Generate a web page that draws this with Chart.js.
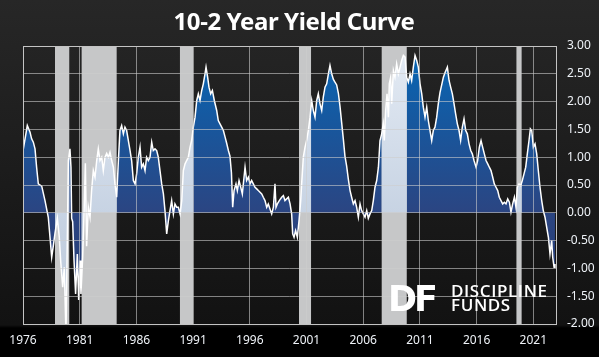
<!DOCTYPE html>
<html><head><meta charset="utf-8">
<script src="https://cdn.jsdelivr.net/npm/chart.js@4.4.1/dist/chart.umd.min.js"></script>
<style>
html,body{margin:0;padding:0;background:#000;}
#wrap{width:599px;height:357px;position:relative;overflow:hidden;
 background:linear-gradient(to bottom,#272727 0px,#1a1a1a 200px,#121212 325px,#000 328px,#000 357px);}
canvas{display:block;}
</style></head><body>
<div id="wrap"><canvas id="c" width="599" height="357"></canvas></div>
<script>
const TITLE = '10-2 Year Yield Curve';
const LOGO_MARK = 'DF';
const LOGO_LINE1 = 'DISCIPLINE';
const LOGO_LINE2 = 'FUNDS';

// decimal year of each observation (as placed on the chart)
const dates = [
1976.03,1976.38,1976.62,1976.76,1976.91,1977.06,1977.2,1977.35,1977.65,1977.94,
1978.23,1978.38,1978.53,1978.67,1978.82,1979.03,1979.2,1979.32,1979.5,1979.64,
1979.79,1979.91,1980.0,1980.14,1980.23,1980.29,1980.38,1980.5,1980.64,1980.79,
1980.91,1981.03,1981.11,1981.26,1981.38,1981.5,1981.61,1981.76,1981.91,1982.05,
1982.2,1982.35,1982.5,1982.64,1982.79,1982.94,1983.08,1983.23,1983.38,1983.53,
1983.67,1983.82,1983.97,1984.11,1984.26,1984.41,1984.55,1984.7,1984.85,1984.99,
1985.14,1985.29,1985.44,1985.58,1985.73,1985.88,1986.02,1986.17,1986.32,1986.46,
1986.61,1986.76,1986.9,1987.05,1987.2,1987.35,1987.49,1987.64,1987.79,1987.93,
1988.08,1988.23,1988.38,1988.52,1988.67,1988.82,1988.96,1989.11,1989.26,1989.4,
1989.55,1989.7,1989.85,1990.0,1990.14,1990.29,1990.43,1990.58,1990.73,1990.87,
1991.02,1991.17,1991.32,1991.46,1991.61,1991.76,1991.9,1992.05,1992.14,1992.28,
1992.4,1992.55,1992.7,1992.87,1993.08,1993.22,1993.37,1993.52,1993.67,1993.81,
1993.96,1994.11,1994.25,1994.38,1994.49,1994.61,1994.78,1994.9,1995.05,1995.2,
1995.34,1995.49,1995.58,1995.72,1995.87,1996.02,1996.16,1996.31,1996.46,1996.61,
1996.75,1996.9,1997.05,1997.19,1997.34,1997.49,1997.63,1997.78,1997.93,1998.08,
1998.22,1998.31,1998.43,1998.6,1998.81,1998.96,1999.1,1999.25,1999.4,1999.55,
1999.69,1999.78,1999.9,2000.04,2000.19,2000.34,2000.49,2000.57,2000.72,2000.87,
2001.01,2001.16,2001.31,2001.46,2001.6,2001.75,2001.9,2002.04,2002.19,2002.34,
2002.48,2002.63,2002.78,2002.93,2003.07,2003.22,2003.37,2003.51,2003.66,2003.81,
2003.95,2004.1,2004.25,2004.39,2004.54,2004.69,2004.84,2004.98,2005.13,2005.28,
2005.42,2005.57,2005.72,2005.86,2006.01,2006.16,2006.31,2006.45,2006.6,2006.75,
2006.89,2007.04,2007.19,2007.34,2007.48,2007.63,2007.77,2007.86,2007.98,2008.1,
2008.22,2008.3,2008.42,2008.51,2008.66,2008.8,2008.95,2009.1,2009.25,2009.39,
2009.54,2009.69,2009.83,2009.98,2010.13,2010.27,2010.42,2010.57,2010.72,2010.86,
2011.01,2011.16,2011.3,2011.45,2011.6,2011.74,2011.89,2012.04,2012.18,2012.33,
2012.48,2012.62,2012.77,2012.92,2013.07,2013.21,2013.42,2013.57,2013.71,2013.86,
2014.01,2014.15,2014.3,2014.45,2014.59,2014.74,2014.89,2015.04,2015.18,2015.33,
2015.48,2015.62,2015.77,2015.95,2016.09,2016.24,2016.39,2016.53,2016.68,2016.83,
2016.98,2017.12,2017.27,2017.42,2017.56,2017.71,2017.86,2018.0,2018.15,2018.3,
2018.45,2018.59,2018.74,2018.89,2019.03,2019.18,2019.33,2019.47,2019.59,2019.74,
2019.89,2020.03,2020.18,2020.33,2020.47,2020.62,2020.74,2020.86,2021.0,2021.15,
2021.3,2021.44,2021.59,2021.74,2021.88,2022.03,2022.18,2022.33,2022.47,2022.62,
2022.71,2022.83,2022.91
];
// 10-year minus 2-year Treasury yield, percentage points
const spread = [
1.15,1.57,1.45,1.33,1.27,1.15,0.82,0.52,0.48,0.22,
-0.08,-0.44,-0.80,-0.60,-0.37,-0.10,-0.44,-0.86,-1.34,-0.98,
-2.2,-0.45,0.94,1.15,0.82,-0.10,-0.16,-0.86,-1.46,-0.74,
-1.57,-0.86,-1.46,-0.80,-0.02,0.89,-0.60,0.10,-0.08,0.40,
0.76,0.64,0.94,1.15,0.94,1.00,0.76,1.00,1.07,1.00,
1.09,0.94,0.82,0.52,0.28,0.94,1.48,1.57,1.42,1.54,
1.48,1.30,1.12,0.94,0.58,0.52,0.70,1.00,1.18,0.82,
0.88,0.76,1.00,0.94,1.00,1.27,1.12,1.15,1.12,1.00,
0.76,0.52,0.34,0.04,-0.38,-0.14,0.04,0.22,-0.02,0.16,
0.10,0.10,-0.02,0.22,0.76,0.88,0.94,1.00,1.18,1.30,
1.54,1.72,2.02,2.14,2.02,2.20,2.32,2.50,2.62,2.44,
2.26,2.14,2.20,2.02,1.84,1.66,1.60,1.54,1.48,1.37,
1.25,1.12,1.02,0.72,0.10,0.40,0.52,0.40,0.58,0.46,
0.34,0.64,0.82,0.58,0.64,0.52,0.58,0.52,0.46,0.43,
0.40,0.37,0.34,0.28,0.22,0.10,0.16,0.07,-0.02,0.10,
0.52,0.10,0.16,0.22,0.28,0.31,0.22,0.25,0.28,0.16,
-0.02,-0.38,-0.44,-0.32,-0.44,-0.14,0.22,0.52,1.00,1.18,
1.30,1.48,1.72,2.02,1.84,1.72,2.02,2.14,1.96,1.84,
2.08,2.26,2.32,2.50,2.65,2.50,2.40,2.35,2.30,2.15,
1.92,1.62,1.32,1.02,0.84,0.60,0.40,0.28,0.16,0.22,
0.10,-0.08,0.16,0.04,-0.02,-0.08,0.04,-0.10,-0.02,0.04,
0.22,0.46,0.58,0.82,1.30,1.42,1.60,1.30,1.84,2.14,
1.72,2.32,2.44,1.96,2.56,2.44,2.68,2.50,2.62,2.74,
2.83,2.80,2.44,2.35,2.50,2.38,2.62,2.83,2.74,2.62,
2.32,2.14,1.90,1.72,1.90,1.66,1.48,1.30,1.48,1.54,
1.72,1.96,2.16,2.30,2.44,2.52,2.62,2.38,2.26,2.14,
1.96,1.78,1.60,1.48,1.30,1.54,1.69,1.48,1.42,1.24,
1.12,1.06,0.94,0.82,0.94,1.18,1.30,1.18,1.06,0.94,
0.88,0.82,0.76,0.64,0.52,0.46,0.40,0.28,0.22,0.16,
0.19,0.16,0.25,0.19,0.01,0.16,0.28,0.10,0.46,0.52,
0.49,0.58,0.70,0.82,1.06,1.30,1.51,1.48,1.18,1.24,
1.06,0.76,0.46,0.22,0.04,-0.08,-0.26,-0.44,-0.74,-0.50,
-0.80,-0.98,-0.92
];

// shaded recession periods (as placed on the chart)
const recessionStart = [1978.82, 1981.17, 1989.84, 2000.34, 2007.63, 2019.51];
const recessionEnd   = [1980.08, 1984.26, 1991.00, 2001.40, 2009.84, 2019.97];

const xTickYears = [1976, 1981, 1986, 1991, 1996, 2001, 2006, 2011, 2016, 2021];
const yTickValues = [-2, -1.5, -1, -0.5, 0, 0.5, 1, 1.5, 2, 2.5, 3];

const points = dates.map((d, i) => ({x: d, y: spread[i]}));

function makeGradient(chart, top, mid, bot) {
  const ys = chart.scales.y;
  const yTop = ys.getPixelForValue(3), y0 = ys.getPixelForValue(0), yBot = ys.getPixelForValue(-2);
  const g = chart.ctx.createLinearGradient(0, yTop, 0, yBot);
  g.addColorStop(0, top);
  g.addColorStop((y0 - yTop) / (yBot - yTop), mid);
  g.addColorStop(1, bot);
  return g;
}

function fillGradient(context) {
  const chart = context.chart;
  if (!chart.chartArea) return '#1d5296';
  return makeGradient(chart, '#0667b6', '#2b4582', '#243a70');
}

const bandsPlugin = {
  id: 'bands',
  beforeDatasetDraw(chart, args) {
    if (args.index !== 1) return;
    const {ctx, chartArea: a, scales: {x, y}} = chart;
    ctx.save();
    ctx.beginPath();
    recessionStart.forEach((s, i) => {
      const x1 = Math.max(a.left, x.getPixelForValue(s));
      const x2 = Math.min(a.right, x.getPixelForValue(recessionEnd[i]));
      ctx.rect(x1, a.top, x2 - x1, a.bottom - a.top);
    });
    ctx.clip();
    ctx.fillStyle = '#c6c7c8';
    ctx.fillRect(a.left, a.top, a.right - a.left, a.bottom - a.top);
    // lighter area fill inside the shaded periods
    const pts = chart.getDatasetMeta(0).data;
    const yZ = y.getPixelForValue(0);
    ctx.beginPath();
    ctx.moveTo(pts[0].x, yZ);
    pts.forEach(p => ctx.lineTo(p.x, p.y));
    ctx.lineTo(pts[pts.length - 1].x, yZ);
    ctx.closePath();
    ctx.fillStyle = makeGradient(chart, '#e4ebf4', '#c7d3e3', '#bcc8da');
    ctx.fill();
    ctx.restore();
  }
};

const decorPlugin = {
  id: 'decor',
  afterDraw(chart) {
    const {ctx, chartArea: a} = chart;
    ctx.save();
    ctx.strokeStyle = '#c4c4c4';
    ctx.lineWidth = 1;
    ctx.strokeRect(Math.round(a.left) + 0.5, Math.round(a.top) + 0.5, Math.round(a.right - a.left), Math.round(a.bottom - a.top));
    ctx.fillStyle = '#ffffff';
    ctx.textAlign = 'center';
    ctx.textBaseline = 'alphabetic';
    ctx.font = 'bold 24px "Noto Sans"';
    if ('letterSpacing' in ctx) ctx.letterSpacing = '-0.4px';
    ctx.fillText(TITLE, 294, 30);
    ctx.textAlign = 'left';
    ctx.font = 'bold 35px "DejaVu Sans"';
    if ('letterSpacing' in ctx) ctx.letterSpacing = '-3px';
    ctx.fillText(LOGO_MARK, 388, 311);
    ctx.font = '600 17px "Open Sans"';
    if ('letterSpacing' in ctx) ctx.letterSpacing = '0.6px';
    ctx.fillText(LOGO_LINE1, 451, 297);
    ctx.fillText(LOGO_LINE2, 451, 311);
    if ('letterSpacing' in ctx) ctx.letterSpacing = '0px';
    ctx.restore();
  }
};

new Chart(document.getElementById('c'), {
  type: 'line',
  data: {
    datasets: [
      {
        label: 'fill',
        data: points,
        order: 2,
        borderWidth: 0,
        borderColor: 'rgba(0,0,0,0)',
        pointRadius: 0,
        fill: 'origin',
        backgroundColor: fillGradient,
        tension: 0
      },
      {
        label: '10-2',
        data: points,
        order: 1,
        borderWidth: 1.5,
        borderColor: '#ffffff',
        pointRadius: 0,
        fill: false,
        tension: 0
      }
    ]
  },
  options: {
    responsive: false,
    animation: false,
    devicePixelRatio: 1,
    layout: {padding: {left: 23, top: 46, right: 0, bottom: 0}},
    plugins: {legend: {display: false}, tooltip: {enabled: false}, title: {display: false}},
    scales: {
      x: {
        type: 'linear',
        min: 1976, max: 2023,
        afterBuildTicks: s => { s.ticks = xTickYears.map(v => ({value: v})); },
        afterFit: s => { s.height = 33; },
        grid: {color: 'rgba(205,205,205,0.6)', lineWidth: 1, drawTicks: false, z: 1},
        border: {display: false},
        ticks: {color: '#eef2f7', font: {family: '"Noto Sans"', size: 12}, padding: 9, maxRotation: 0,
                callback: v => String(v)}
      },
      y: {
        position: 'right',
        min: -2, max: 3,
        afterBuildTicks: s => { s.ticks = yTickValues.map(v => ({value: v})); },
        afterFit: s => { s.width = 43; },
        grid: {color: 'rgba(205,205,205,0.6)', lineWidth: 1, drawTicks: false, z: 1},
        border: {display: false},
        ticks: {color: '#eef2f7', font: {family: '"Noto Sans"', size: 12}, padding: 11,
                callback: v => Number(v).toFixed(2)}
      }
    }
  },
  plugins: [bandsPlugin, decorPlugin]
});
</script>
</body></html>
